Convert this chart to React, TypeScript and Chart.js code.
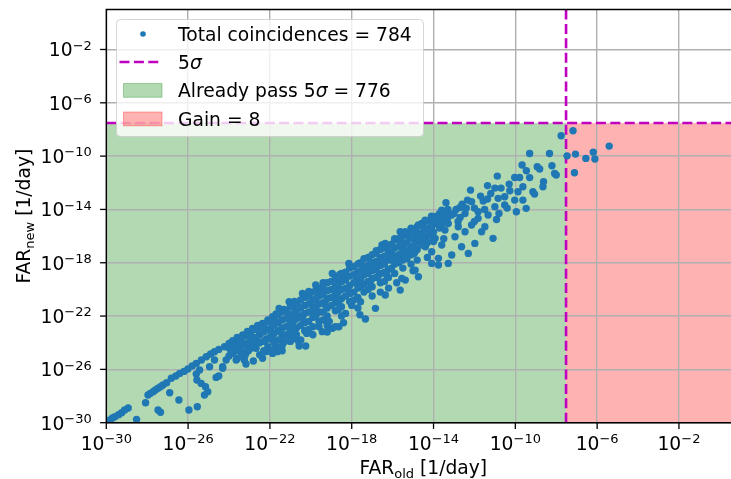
import React, { useEffect, useRef } from "react";
import { Chart, registerables } from "chart.js";

Chart.register(...registerables);

// ---- axis ranges / ticks (log10 exponents) ----
const AXIS_MIN_EXP = -30;
const X_MAX_EXP = 1;
const Y_MAX_EXP = 1;
const TICK_EXPONENTS = [-30, -26, -22, -18, -14, -10, -6, -2];

// ---- 5 sigma threshold (FAR, 1/day) ----
const FIVE_SIGMA_LOG_FAR = -7.52;

// ---- legend counts ----
const TOTAL_COINCIDENCES = 784;
const ALREADY_PASS = 776;
const GAIN = 8;

// ---- coincidences already passing 5 sigma: [log10 FAR_old, log10 FAR_new] ----
const upperLinePoints: number[][] = [
  [-29.98, -29.93], [-29.82, -29.8], [-29.7, -29.65], [-29.58, -29.55], [-29.4, -29.4], [-29.25, -29.25],
  [-29.1, -29.05], [-28.93, -28.9], [-28.52, -29.75], [-28.08, -28.5], [-27.96, -27.92], [-27.85, -27.8],
  [-27.71, -27.67], [-27.6, -27.55], [-27.47, -27.42], [-27.35, -27.3], [-27.23, -27.17], [-27.05, -27.0],
  [-26.82, -26.67], [-26.6, -26.5], [-26.41, -26.3], [-26.2, -26.15], [-26.01, -25.97], [-25.8, -25.75],
  [-25.6, -25.55], [-25.35, -25.3], [-25.11, -25.05], [-24.9, -24.85], [-24.71, -24.68], [-24.5, -24.5],
  [-24.22, -24.3], [-24.0, -24.05], [-23.82, -23.85], [-23.6, -23.6], [-23.33, -23.42], [-23.1, -23.15],
  [-22.85, -22.92], [-22.6, -22.7], [-22.36, -22.55], [-22.1, -22.3], [-21.87, -22.05], [-21.7, -21.85],
  [-21.55, -21.42], [-21.3, -21.5], [-21.06, -20.92], [-20.8, -20.9], [-20.41, -20.3], [-20.1, -20.15],
  [-19.76, -19.67], [-19.4, -19.5], [-18.95, -18.8], [-18.6, -18.9], [-18.14, -18.05], [-17.65, -18.05],
  [-17.17, -17.67], [-16.8, -17.1], [-16.52, -16.67], [-16.36, -16.55], [-15.9, -16.2], [-15.63, -15.67],
  [-15.55, -15.8], [-15.1, -15.4], [-14.57, -15.05], [-14.1, -14.5], [-13.6, -14.05],
];

const lowerScatterPoints: number[][] = [
  [-27.47, -29.05], [-27.35, -29.22], [-26.9, -27.75], [-26.45, -28.3], [-25.96, -29.05], [-25.55, -28.8],
  [-25.6, -26.35], [-25.57, -26.8], [-25.36, -27.05], [-25.15, -27.3], [-25.04, -27.68], [-25.2, -27.92],
  [-24.95, -25.8], [-24.71, -25.3], [-24.63, -26.6], [-24.5, -26.5], [-24.31, -25.8], [-24.14, -25.3],
  [-23.82, -24.55], [-23.65, -25.3], [-23.65, -24.42], [-23.17, -25.6], [-23.17, -24.17], [-23.17, -24.75],
  [-22.81, -25.37], [-22.68, -24.42], [-22.68, -23.8], [-22.52, -23.42], [-22.36, -25.17], [-22.19, -24.67],
  [-22.19, -23.05], [-21.87, -24.8], [-21.71, -24.3], [-21.87, -23.8], [-23.25, -25.3], [-25.44, -26.05],
  [-24.31, -25.92], [-21.63, -24.67], [-21.06, -23.55], [-20.57, -24.25], [-20.25, -24.25], [-20.49, -23.8],
  [-19.44, -23.17], [-18.95, -22.92], [-19.28, -22.3], [-18.63, -22.8], [-18.3, -21.8], [-17.33, -22.22],
  [-16.84, -21.42], [-17.57, -20.92], [-16.36, -20.42], [-15.63, -20.05], [-15.38, -19.3], [-14.74, -19.05],
  [-14.09, -18.05], [-15.55, -19.17], [-14.9, -18.55], [-13.76, -18.17], [-19.6, -22.8], [-18.8, -22.8],
];

const denseCorePoints: number[][] = [
  [-24.0, -24.4], [-24.0, -25.0],
  [-23.6, -23.9], [-23.6, -24.6], [-23.6, -25.2],
  [-23.2, -23.5], [-23.2, -24.1], [-23.2, -24.9],
  [-22.9, -23.1], [-22.9, -23.8], [-22.9, -24.4],
  [-22.5, -22.8], [-22.5, -23.4], [-22.5, -24.0], [-22.5, -24.9],
  [-22.1, -22.4], [-22.1, -23.0], [-22.1, -23.7], [-22.1, -24.3],
  [-21.8, -22.1], [-21.8, -22.7], [-21.8, -23.3], [-21.8, -24.0],
  [-21.4, -21.7], [-21.4, -22.3], [-21.4, -22.9], [-21.4, -23.5], [-21.4, -24.2],
  [-21.0, -21.3], [-21.0, -21.9], [-21.0, -22.6], [-21.0, -23.2], [-21.0, -23.9],
  [-20.7, -21.0], [-20.7, -21.6], [-20.7, -22.2], [-20.7, -22.9], [-20.7, -23.4],
  [-20.3, -20.6], [-20.3, -21.2], [-20.3, -21.8], [-20.3, -22.5], [-20.3, -23.1],
  [-19.9, -20.2], [-19.9, -20.8], [-19.9, -21.5], [-19.9, -22.1], [-19.9, -22.8], [-19.9, -23.4],
  [-19.6, -19.9], [-19.6, -20.5], [-19.6, -21.1], [-19.6, -21.7], [-19.6, -22.4],
  [-19.2, -19.5], [-19.2, -20.1], [-19.2, -20.7], [-19.2, -21.4], [-19.2, -22.0], [-19.2, -22.7],
  [-18.8, -19.2], [-18.8, -19.8], [-18.8, -20.4], [-18.8, -21.0], [-18.8, -21.6],
  [-18.5, -18.8], [-18.5, -19.4], [-18.5, -20.0], [-18.5, -20.7], [-18.5, -21.3], [-18.5, -22.0],
  [-18.1, -18.4], [-18.1, -19.0], [-18.1, -19.7], [-18.1, -20.3], [-18.1, -20.9],
  [-17.7, -18.1], [-17.7, -18.7], [-17.7, -19.3], [-17.7, -19.9], [-17.7, -20.6], [-17.7, -21.4],
  [-17.4, -17.7], [-17.4, -18.3], [-17.4, -18.9], [-17.4, -19.6], [-17.4, -20.2],
  [-17.0, -17.4], [-17.0, -18.0], [-17.0, -18.6], [-17.0, -19.2], [-17.0, -19.8], [-17.0, -20.5],
  [-16.6, -17.0], [-16.6, -17.6], [-16.6, -18.2], [-16.6, -18.8], [-16.6, -19.5],
  [-16.2, -16.7], [-16.2, -17.2], [-16.2, -17.8], [-16.2, -18.5], [-16.2, -19.1], [-16.2, -19.9],
  [-15.9, -16.3], [-15.9, -16.9], [-15.9, -17.5], [-15.9, -18.1], [-15.9, -18.8],
  [-15.5, -16.0], [-15.5, -16.5], [-15.5, -17.1], [-15.5, -17.8], [-15.5, -18.4],
  [-15.1, -15.6], [-15.1, -16.2], [-15.1, -16.8], [-15.1, -17.4], [-15.1, -18.1],
  [-14.8, -15.3], [-14.8, -15.8], [-14.8, -16.4], [-14.8, -17.0], [-14.8, -17.8],
  [-14.4, -14.9], [-14.4, -15.5], [-14.4, -16.1], [-14.4, -16.8],
  [-14.0, -14.6], [-14.0, -15.1], [-14.0, -15.7], [-14.0, -16.4],
  [-13.7, -14.3], [-13.7, -14.8], [-13.7, -15.4],
  [-13.3, -14.0], [-13.3, -14.6],
];

const denseCoreInfill: number[][] = [
  [-23.8, -24.2], [-23.8, -24.8],
  [-23.4, -23.7], [-23.4, -24.3], [-23.4, -25.0],
  [-23.05, -23.3], [-23.05, -24.0], [-23.05, -24.6],
  [-22.7, -23.0], [-22.7, -23.6], [-22.7, -24.2],
  [-22.3, -22.6], [-22.3, -23.2], [-22.3, -23.9], [-22.3, -24.6],
  [-21.95, -22.3], [-21.95, -22.9], [-21.95, -23.5],
  [-21.6, -21.9], [-21.6, -22.5], [-21.6, -23.1], [-21.6, -23.8],
  [-21.2, -21.6], [-21.2, -22.2], [-21.2, -22.8], [-21.2, -23.4],
  [-20.85, -21.2], [-20.85, -21.8], [-20.85, -22.4], [-20.85, -23.0], [-20.85, -23.7],
  [-20.5, -20.8], [-20.5, -21.4], [-20.5, -22.0], [-20.5, -22.7],
  [-20.1, -20.5], [-20.1, -21.1], [-20.1, -21.7], [-20.1, -22.4], [-20.1, -23.0],
  [-19.75, -20.1], [-19.75, -20.7], [-19.75, -21.3], [-19.75, -22.0],
  [-19.4, -19.8], [-19.4, -20.4], [-19.4, -21.0], [-19.4, -21.7], [-19.4, -22.3],
  [-19.0, -19.4], [-19.0, -20.0], [-19.0, -20.6], [-19.0, -21.2],
  [-18.65, -19.0], [-18.65, -19.6], [-18.65, -20.2], [-18.65, -20.9], [-18.65, -21.5],
  [-18.3, -18.7], [-18.3, -19.3], [-18.3, -19.9], [-18.3, -20.5],
  [-17.9, -18.3], [-17.9, -18.9], [-17.9, -19.5], [-17.9, -20.2], [-17.9, -20.8],
  [-17.55, -18.0], [-17.55, -18.6], [-17.55, -19.2], [-17.55, -19.8],
  [-17.2, -17.6], [-17.2, -18.2], [-17.2, -18.8], [-17.2, -19.4], [-17.2, -20.0],
  [-16.8, -17.3], [-16.8, -17.9], [-16.8, -18.5], [-16.8, -19.1],
  [-16.4, -16.9], [-16.4, -17.5], [-16.4, -18.1], [-16.4, -18.7], [-16.4, -19.4],
  [-16.05, -16.6], [-16.05, -17.2], [-16.05, -17.8], [-16.05, -18.4],
  [-15.7, -16.2], [-15.7, -16.8], [-15.7, -17.4], [-15.7, -18.0],
  [-15.3, -15.9], [-15.3, -16.5], [-15.3, -17.1], [-15.3, -17.7],
  [-14.95, -15.5], [-14.95, -16.1], [-14.95, -16.7], [-14.95, -17.3],
  [-14.6, -15.2], [-14.6, -15.8], [-14.6, -16.4],
  [-14.2, -14.8], [-14.2, -15.4], [-14.2, -16.0],
  [-13.85, -14.5], [-13.85, -15.1],
  [-13.5, -14.2], [-13.5, -14.9],
];

const denseCoreExtra: number[][] = [
  [-23.9, -24.65], [-23.5, -24.0], [-23.3, -24.75], [-22.95, -23.45], [-22.8, -24.15], [-22.4, -23.05],
  [-22.2, -23.75], [-22.0, -24.55], [-21.7, -22.45], [-21.5, -23.2], [-21.3, -23.95], [-21.1, -22.05],
  [-20.9, -22.75], [-20.6, -21.35], [-20.4, -22.2], [-20.2, -23.3], [-20.0, -21.0], [-19.8, -21.8],
  [-19.5, -20.25], [-19.3, -21.15], [-19.1, -22.4], [-18.9, -20.05], [-18.7, -20.75], [-18.4, -19.15],
  [-18.2, -20.0], [-18.0, -21.2], [-17.8, -19.0], [-17.6, -19.6], [-17.3, -18.5], [-17.1, -19.5],
  [-16.9, -18.3], [-16.7, -19.0], [-16.5, -17.85], [-16.3, -18.9], [-16.1, -17.5], [-15.8, -17.7],
  [-15.6, -16.6], [-15.4, -17.4], [-15.2, -16.0], [-15.0, -16.9], [-14.7, -16.1], [-14.5, -15.3],
  [-14.3, -16.5], [-14.1, -15.4], [-13.9, -14.9], [-13.6, -15.2], [-13.4, -14.4], [-13.0, -14.3],
  [-12.7, -14.6], [-12.4, -13.9], [-21.4, -24.6], [-20.6, -23.9], [-19.2, -23.2], [-18.4, -22.5],
  [-17.6, -21.9], [-16.6, -20.2], [-15.8, -19.5], [-15.0, -18.6], [-14.3, -17.6], [-13.5, -16.2],
];

const upperTailPoints: number[][] = [
  [-7.76, -8.47], [-9.3, -9.8], [-8.33, -9.8], [-9.67, -10.67], [-9.46, -11.1], [-8.93, -10.8],
  [-8.81, -10.97], [-8.21, -10.72], [-8.08, -11.3], [-8.0, -11.42], [-10.88, -11.5], [-10.03, -11.6],
  [-9.79, -11.6], [-9.3, -11.61], [-8.62, -11.92], [-11.36, -12.21], [-11.0, -12.4], [-8.65, -12.3],
  [-9.63, -12.3], [-12.19, -12.55], [-10.27, -12.6], [-9.87, -12.67], [-9.14, -12.67], [-9.06, -12.85],
  [-12.34, -13.3], [-12.14, -13.42], [-11.57, -13.37], [-11.36, -13.22], [-13.39, -13.5], [-10.84, -13.17],
  [-10.52, -13.05], [-10.03, -13.3], [-9.63, -13.3], [-9.47, -13.92], [-9.95, -14.17], [-12.71, -13.85],
  [-11.82, -14.17], [-11.0, -13.8], [-10.52, -13.67], [-13.11, -14.42], [-12.46, -14.3], [-11.33, -14.42],
  [-14.41, -14.8], [-13.68, -14.67], [-11.82, -14.67], [-10.92, -14.75], [-14.74, -15.17], [-14.09, -15.17],
  [-13.28, -15.05], [-12.79, -15.3], [-12.14, -15.17], [-11.49, -15.3], [-15.38, -15.67], [-14.9, -15.55],
  [-14.25, -15.67], [-13.44, -15.55], [-12.46, -15.67], [-11.65, -15.67], [-11.09, -16.17], [-15.06, -16.17],
  [-13.92, -16.17], [-12.95, -16.05], [-11.98, -16.55], [-15.47, -16.67], [-14.57, -16.67], [-13.6, -16.67],
  [-12.63, -16.8], [-12.3, -17.3], [-13.11, -17.42], [-14.09, -17.17], [-14.9, -17.17], [-13.76, -17.67],
  [-13.28, -18.05], [-15.38, -17.67],
  [-12.9, -14.0], [-12.6, -13.6], [-12.0, -13.9], [-11.7, -13.0], [-11.2, -12.8], [-10.7, -12.4],
  [-10.3, -12.1], [-12.8, -14.9], [-12.0, -14.9], [-11.5, -14.0], [-10.8, -14.3], [-10.4, -13.9],
];

// ---- coincidences that newly pass 5 sigma (gain) ----
const gainPoints: number[][] = [
  [-7.18, -8.1], [-7.47, -9.98], [-7.06, -9.85], [-6.55, -10.17],
  [-6.19, -9.7], [-6.11, -10.22], [-5.41, -9.25], [-7.11, -11.25],
];

const ALL_POINTS = [
  ...upperLinePoints,
  ...lowerScatterPoints,
  ...denseCorePoints,
  ...denseCoreInfill,
  ...denseCoreExtra,
  ...upperTailPoints,
  ...gainPoints,
];

const BLUE = "#1f77b4";
const MAGENTA = "#bf00bf";
const GREEN_FILL = "rgba(0,128,0,0.3)";
const RED_FILL = "rgba(255,0,0,0.3)";
const FONT = "'DejaVu Sans', sans-serif";
const FS = 18.7;
const FS_SMALL = 13;

type Run = { text: string; font: string; dy?: number };

function drawRuns(ctx: CanvasRenderingContext2D, runs: Run[], x: number, y: number, align: "left" | "center" | "right") {
  const widths = runs.map((r) => {
    ctx.font = r.font;
    return ctx.measureText(r.text).width;
  });
  const total = widths.reduce((a, b) => a + b, 0);
  let cx = align === "left" ? x : align === "center" ? x - total / 2 : x - total;
  ctx.textAlign = "left";
  ctx.textBaseline = "alphabetic";
  runs.forEach((r, i) => {
    ctx.font = r.font;
    ctx.fillText(r.text, cx, y + (r.dy || 0));
    cx += widths[i];
  });
}

function powRuns(exp: number): Run[] {
  const s = exp < 0 ? "\u2212" + Math.abs(exp) : String(exp);
  return [
    { text: "10", font: `${FS}px ${FONT}` },
    { text: s, font: `${FS_SMALL}px ${FONT}`, dy: -6.8 },
  ];
}

const decorPlugin = {
  id: "decor",
  beforeDraw(chart: any) {
    const { ctx, chartArea: ca, scales } = chart;
    const xs = scales.x.getPixelForValue(10 ** FIVE_SIGMA_LOG_FAR);
    const ys = scales.y.getPixelForValue(10 ** FIVE_SIGMA_LOG_FAR);
    ctx.save();
    ctx.fillStyle = "#ffffff";
    ctx.fillRect(0, 0, chart.width, chart.height);
    ctx.beginPath();
    ctx.rect(ca.left, ca.top, ca.right - ca.left, ca.bottom - ca.top);
    ctx.clip();
    ctx.fillStyle = GREEN_FILL;
    ctx.fillRect(ca.left, ys, xs - ca.left, ca.bottom - ys);
    ctx.fillStyle = RED_FILL;
    ctx.fillRect(xs, ys, ca.right - xs, ca.bottom - ys);
    ctx.restore();
  },
  beforeDatasetsDraw(chart: any) {
    const { ctx, chartArea: ca, scales } = chart;
    const xs = scales.x.getPixelForValue(10 ** FIVE_SIGMA_LOG_FAR);
    const ys = scales.y.getPixelForValue(10 ** FIVE_SIGMA_LOG_FAR);
    ctx.save();
    ctx.strokeStyle = MAGENTA;
    ctx.lineWidth = 2.6;
    ctx.setLineDash([10, 4.4]);
    ctx.beginPath();
    ctx.moveTo(ca.left, ys);
    ctx.lineTo(ca.right, ys);
    ctx.stroke();
    ctx.beginPath();
    ctx.moveTo(xs, ca.top);
    ctx.lineTo(xs, ca.bottom);
    ctx.stroke();
    ctx.restore();
  },
  afterDraw(chart: any) {
    const { ctx, chartArea: ca, scales } = chart;
    ctx.save();
    // spines
    ctx.strokeStyle = "#000";
    ctx.lineWidth = 1.4;
    ctx.beginPath();
    ctx.moveTo(ca.left, ca.bottom);
    ctx.lineTo(ca.left, ca.top);
    ctx.lineTo(ca.right + 2, ca.top);
    ctx.moveTo(ca.left, ca.bottom);
    ctx.lineTo(ca.right + 2, ca.bottom);
    ctx.stroke();
    // ticks + labels
    ctx.fillStyle = "#000";
    ctx.lineWidth = 1.3;
    TICK_EXPONENTS.forEach((e) => {
      const px = scales.x.getPixelForValue(10 ** e);
      ctx.beginPath();
      ctx.moveTo(px, ca.bottom);
      ctx.lineTo(px, ca.bottom + 6.2);
      ctx.stroke();
      drawRuns(ctx, powRuns(e), px, ca.bottom + 27.5, "center");
      const py = scales.y.getPixelForValue(10 ** e);
      ctx.beginPath();
      ctx.moveTo(ca.left - 6.2, py);
      ctx.lineTo(ca.left, py);
      ctx.stroke();
      drawRuns(ctx, powRuns(e), ca.left - 14.5, py + 7, "right");
    });
    // axis titles
    const cx = (ca.left + ca.right) / 2;
    drawRuns(
      ctx,
      [
        { text: "FAR", font: `${FS}px ${FONT}` },
        { text: "old", font: `${FS_SMALL}px ${FONT}`, dy: 4 },
        { text: " [1/day]", font: `${FS}px ${FONT}` },
      ],
      cx,
      ca.bottom + 51.5,
      "center"
    );
    ctx.save();
    ctx.translate(29.5, (ca.top + ca.bottom) / 2);
    ctx.rotate(-Math.PI / 2);
    drawRuns(
      ctx,
      [
        { text: "FAR", font: `${FS}px ${FONT}` },
        { text: "new", font: `${FS_SMALL}px ${FONT}`, dy: 4 },
        { text: " [1/day]", font: `${FS}px ${FONT}` },
      ],
      0,
      0,
      "center"
    );
    ctx.restore();

    // legend
    const lx = 116.5, ly = 19.5, lw = 307, lh = 117;
    ctx.beginPath();
    ctx.roundRect(lx, ly, lw, lh, 4);
    ctx.fillStyle = "rgba(255,255,255,0.8)";
    ctx.fill();
    ctx.strokeStyle = "rgba(204,204,204,0.8)";
    ctx.lineWidth = 1;
    ctx.stroke();

    const textX = 178;
    // row 1: marker
    ctx.fillStyle = BLUE;
    ctx.beginPath();
    ctx.arc(143, 34, 2.8, 0, Math.PI * 2);
    ctx.fill();
    // row 2: dashed line
    ctx.strokeStyle = MAGENTA;
    ctx.lineWidth = 2.6;
    ctx.setLineDash([10, 4.4]);
    ctx.beginPath();
    ctx.moveTo(119.5, 62);
    ctx.lineTo(162, 62);
    ctx.stroke();
    ctx.setLineDash([]);
    // row 3: green patch
    ctx.fillStyle = GREEN_FILL;
    ctx.fillRect(123.5, 83.5, 38.5, 13.8);
    ctx.strokeStyle = GREEN_FILL;
    ctx.lineWidth = 1;
    ctx.strokeRect(123.5, 83.5, 38.5, 13.8);
    // row 4: red patch
    ctx.fillStyle = RED_FILL;
    ctx.fillRect(123.5, 112, 38.5, 13.8);
    ctx.strokeStyle = RED_FILL;
    ctx.strokeRect(123.5, 112, 38.5, 13.8);

    ctx.fillStyle = "#000";
    const f = `${FS}px ${FONT}`;
    const fi = `italic ${FS}px ${FONT}`;
    drawRuns(ctx, [{ text: `Total coincidences = ${TOTAL_COINCIDENCES}`, font: f }], textX, 40.5, "left");
    drawRuns(ctx, [{ text: "5", font: f }, { text: "\u03c3", font: fi }], textX, 68.5, "left");
    drawRuns(
      ctx,
      [
        { text: "Already pass 5", font: f },
        { text: "\u03c3", font: fi },
        { text: ` = ${ALREADY_PASS}`, font: f },
      ],
      textX,
      97,
      "left"
    );
    drawRuns(ctx, [{ text: `Gain = ${GAIN}`, font: f }], textX, 125.5, "left");
    ctx.restore();
  },
};

export default function App() {
  const canvasRef = useRef<HTMLCanvasElement | null>(null);

  useEffect(() => {
    const canvas = canvasRef.current;
    if (!canvas) return;
    const tickValues = TICK_EXPONENTS.map((e) => ({ value: 10 ** e }));
    const chart = new Chart(canvas, {
      type: "scatter",
      data: {
        datasets: [
          {
            label: "Total coincidences",
            data: ALL_POINTS.map(([o, n]) => ({ x: 10 ** o, y: 10 ** n })),
            backgroundColor: BLUE,
            borderColor: BLUE,
            borderWidth: 0,
            pointRadius: 3.7,
            pointHoverRadius: 3.7,
          },
        ],
      },
      options: {
        responsive: false,
        animation: false,
        devicePixelRatio: 1,
        events: [],
        layout: { padding: { top: 9.5, left: 0, right: 0, bottom: 0 } },
        plugins: { legend: { display: false }, tooltip: { enabled: false } },
        scales: {
          x: {
            type: "logarithmic",
            min: 10 ** AXIS_MIN_EXP,
            max: 10 ** X_MAX_EXP,
            afterBuildTicks: (s: any) => {
              s.ticks = tickValues.map((t) => ({ ...t }));
            },
            afterFit: (s: any) => {
              s.height = 56.3;
            },
            ticks: { display: false },
            grid: { color: "#b0b0b0", lineWidth: 1.4, drawTicks: false },
            border: { display: false },
          },
          y: {
            type: "logarithmic",
            min: 10 ** AXIS_MIN_EXP,
            max: 10 ** Y_MAX_EXP,
            afterBuildTicks: (s: any) => {
              s.ticks = tickValues.map((t) => ({ ...t }));
            },
            afterFit: (s: any) => {
              s.width = 106.3;
            },
            ticks: { display: false },
            grid: { color: "#b0b0b0", lineWidth: 1.4, drawTicks: false },
            border: { display: false },
          },
        },
      },
      plugins: [decorPlugin],
    } as any);
    return () => chart.destroy();
  }, []);

  return (
    <div style={{ position: "absolute", left: 0, top: 0, width: 731, height: 479, overflow: "hidden", background: "#fff" }}>
      <canvas ref={canvasRef} width={744} height={479} style={{ width: 744, height: 479, display: "block" }} />
    </div>
  );
}
